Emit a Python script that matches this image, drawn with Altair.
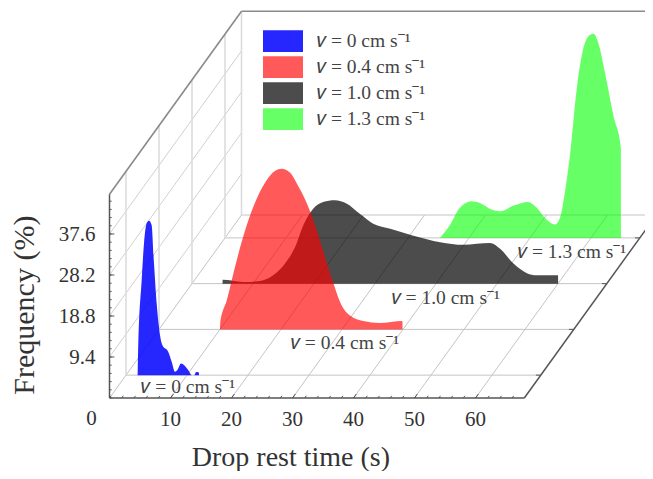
import altair as alt
import pandas as pd

# --- data (rest time in s, frequency in %) ---
series_names = ["𝑣 = 0 cm s⁻¹", "𝑣 = 0.4 cm s⁻¹", "𝑣 = 1.0 cm s⁻¹", "𝑣 = 1.3 cm s⁻¹"]
series_depth = [0.125, 0.375, 0.625, 0.875]
series_colors = ["rgba(0,0,255,0.85)", "rgba(255,0,0,0.65)", "rgba(0,0,0,0.7)", "rgba(0,255,0,0.6)"]

blue_t = [1.9, 1.93, 2.0, 2.57, 2.95, 3.39, 3.77, 4.2, 4.59, 5.03, 5.46, 5.96, 6.94, 7.49, 8.03, 8.41, 9.02, 9.67, 10.2, 10.77, 11.2, 11.5, 11.95, 11.98]
blue_f = [0, 2, 6.5, 21.8, 30.2, 34.8, 35.4, 34.4, 25.6, 16.4, 10.3, 6.9, 5.3, 3.05, 0.76, 1.15, 2.67, 2.1, 1.15, 0, 0, 0.7, 0.6, 0]
red_t = [10, 10.03, 11.1, 12.73, 14.37, 16, 17.65, 19, 20.1, 21.5, 22.8, 24.5, 25.85, 27.2, 28.6, 29.95, 31.3, 33.5, 36.2, 39.9, 39.93]
red_f = [0, 1.3, 6.6, 15.8, 23.8, 29.9, 34.2, 36.3, 36.8, 35.9, 32.9, 28, 22.7, 16.6, 10.5, 5.5, 3.2, 1.9, 1.45, 1.9, 0]
black_t = [5.0, 5.03, 8.4, 11.15, 13.3, 15.25, 16.9, 18.25, 19.9, 21.5, 23.4, 25.4, 27.5, 29.7, 32.5, 36.3, 40.7, 44.5, 48.85, 50.5, 52.7, 54.9, 56.5, 60, 60.03]
black_f = [0, 0.9, 0.4, 0.6, 1.9, 4.6, 8.4, 13.4, 17.2, 18.7, 19.1, 18.3, 16, 13.75, 12.6, 11, 9.5, 8.9, 9.3, 8, 4.6, 2.4, 1.9, 1.9, 0]
green_t = [35.25, 36.9, 38.5, 40.4, 41.8, 43.7, 45.1, 47.3, 49.7, 51.1, 52.7, 54.1, 55, 55.7, 56.6, 57.65, 58.7, 59.7, 60.4, 61.2, 62.3, 63.7, 64.9, 64.93]
green_f = [0, 3, 6.9, 8.4, 8, 6.5, 6.1, 7.4, 8.25, 6.9, 4.2, 3.05, 5, 10.3, 19.5, 34, 43.2, 46.4, 46.8, 44.7, 37.8, 27.9, 20.6, 0]

time_ticks = [10, 20, 30, 40, 50, 60]
time_minor = list(range(0, 70, 2))
freq_ticks = [9.4, 18.8, 28.2, 37.6]
freq_minor = [1.88 * i for i in range(0, 25)]
label_times = [10.2, 30.5, 41.6, 56.9]
label_freqs = [-2.8, -3.2, -3.4, -3.2]
T_MAX, F_MAX = 68, 46.7


# --- oblique projection of (time, depth, frequency) onto the page ---
def px(t, d):
    return 109.5 + 6.1 * t + 132 * d


def py(d, f):
    return 398 - 183 * d - 4.362 * f


xs = alt.Scale(domain=[8, 645], range=[0, 637], nice=False, zero=False)
ys = alt.Scale(domain=[8, 471], range=[0, 463], nice=False, zero=False)
X = alt.X("x:Q", scale=xs, axis=None)
Y = alt.Y("y:Q", scale=ys, axis=None, stack=None)


def seg(a, b):
    return {"x": px(a[0], a[1]), "y": py(a[1], a[2]), "x2": px(b[0], b[1]), "y2": py(b[1], b[2])}


def rules(segments, color, width):
    return alt.Chart(pd.DataFrame(segments)).mark_rule(color=color, strokeWidth=width, clip=True).encode(
        x=X, y=Y, x2="x2:Q", y2="y2:Q"
    )


floor = [seg((t, 0, 0), (t, 1, 0)) for t in [0] + time_ticks]
floor += [seg((0, d, 0), (T_MAX, d, 0)) for d in series_depth + [1]]
wall = [seg((0, 0, f), (0, 1, f)) for f in freq_ticks]
uprights = [seg((0, d, 0), (0, d, F_MAX)) for d in series_depth + [1]]
frame = [seg((0, 0, F_MAX), (0, 1, F_MAX)), seg((0, 1, F_MAX), (T_MAX, 1, F_MAX))]
axes_lines = [seg((0, 0, 0), (T_MAX, 0, 0)), seg((0, 0, 0), (0, 0, F_MAX)), seg((T_MAX, 0, 0), (T_MAX, 1, 0))]
ticks = [seg((t, 0, 0), (t, 0.012, 0)) for t in time_minor]
ticks += [seg((t, 0, 0), (t, 0.022, 0)) for t in time_ticks]
ticks += [seg((0, 0, f), (0.35, 0, f)) for f in freq_minor]
ticks += [seg((0, 0, f), (0.8, 0, f)) for f in freq_ticks]
ticks += [seg((T_MAX, d, 0), (T_MAX - 0.8, d, 0)) for d in series_depth]

rows = []
curves = [(blue_t, blue_f), (red_t, red_f), (black_t, black_f), (green_t, green_f)]
for i in [3, 2, 1, 0]:
    for t, f in zip(*curves[i]):
        d = series_depth[i]
        rows.append({"series": series_names[i], "x": px(t, d), "y": py(d, f), "ybase": py(d, 0)})

areas = alt.Chart(pd.DataFrame(rows)).mark_area(interpolate="monotone", orient="vertical").encode(
    x=X,
    y=Y,
    y2="ybase:Q",
    color=alt.Color(
        "series:N",
        scale=alt.Scale(domain=series_names, range=series_colors),
        legend=alt.Legend(
            title=None,
            orient="none",
            legendX=255,
            legendY=20.5,
            symbolType="M-1,-0.54H1V0.54H-1Z",
            symbolSize=1600,
            symbolStrokeWidth=0,
            clipHeight=25.3,
            rowPadding=0,
            labelFont="Liberation Serif",
            labelFontSize=19.5,
            labelColor="#444444",
            labelOffset=14,
            labelLimit=200,
            padding=0,
        ),
    ),
)

on_floor = pd.DataFrame(
    {
        "x": [px(t, d) for t, d in zip(label_times, series_depth)],
        "y": [py(d, f) for d, f in zip(series_depth, label_freqs)],
        "text": series_names,
    }
)
floor_labels = alt.Chart(on_floor).mark_text(
    font="Liberation Serif", fontSize=19.5, color="#444444", baseline="middle"
).encode(x=X, y=Y, text="text:N")

x_ticks_df = pd.DataFrame(
    {"x": [px(t, 0) for t in time_ticks], "y": [py(0, 0)] * len(time_ticks), "text": [str(t) for t in time_ticks]}
)
x_labels = alt.Chart(x_ticks_df).mark_text(
    font="Liberation Serif", fontSize=21, color="#333333", baseline="middle", dy=22
).encode(x=X, y=Y, text="text:N")

zero_df = pd.DataFrame({"x": [px(0, 0)], "y": [py(0, 0)], "text": ["0"]})
zero_label = alt.Chart(zero_df).mark_text(
    font="Liberation Serif", fontSize=21, color="#333333", baseline="middle", dx=-18, dy=21
).encode(x=X, y=Y, text="text:N")

y_ticks_df = pd.DataFrame(
    {"x": [px(0, 0)] * len(freq_ticks), "y": [py(0, f) for f in freq_ticks], "text": [str(f) for f in freq_ticks]}
)
y_labels = alt.Chart(y_ticks_df).mark_text(
    font="Liberation Serif", fontSize=21, color="#333333", baseline="middle", align="right", dx=-14, dy=1
).encode(x=X, y=Y, text="text:N")

x_title_df = pd.DataFrame({"x": [px(T_MAX / 2, 0)], "y": [py(0, 0)], "text": ["Drop rest time (s)"]})
x_title = alt.Chart(x_title_df).mark_text(
    font="Liberation Serif", fontSize=28, color="#333333", baseline="middle", dx=-26, dy=60
).encode(x=X, y=Y, text="text:N")

y_title_df = pd.DataFrame({"x": [px(0, 0)], "y": [py(0, F_MAX / 2)], "text": ["Frequency (%)"]})
y_title = alt.Chart(y_title_df).mark_text(
    font="Liberation Serif", fontSize=30, color="#333333", baseline="middle", angle=270, dx=-9, dy=-84.5
).encode(x=X, y=Y, text="text:N")

chart = alt.layer(
    rules(floor, "#c4c4c4", 1),
    rules(wall, "#d0d0d0", 1),
    rules(uprights, "#dcdcdc", 1.6),
    rules(frame, "#8a8a8a", 1.6),
    areas,
    rules(axes_lines, "#555555", 1.5),
    rules(ticks, "#555555", 1),
    floor_labels,
    x_labels,
    zero_label,
    y_labels,
    x_title,
    y_title,
).properties(
    width=637, height=463, padding=0, autosize=alt.AutoSizeParams(type="none")
).configure_view(stroke=None)

chart.save("out.html", embed_options={"renderer": "svg", "actions": False})
